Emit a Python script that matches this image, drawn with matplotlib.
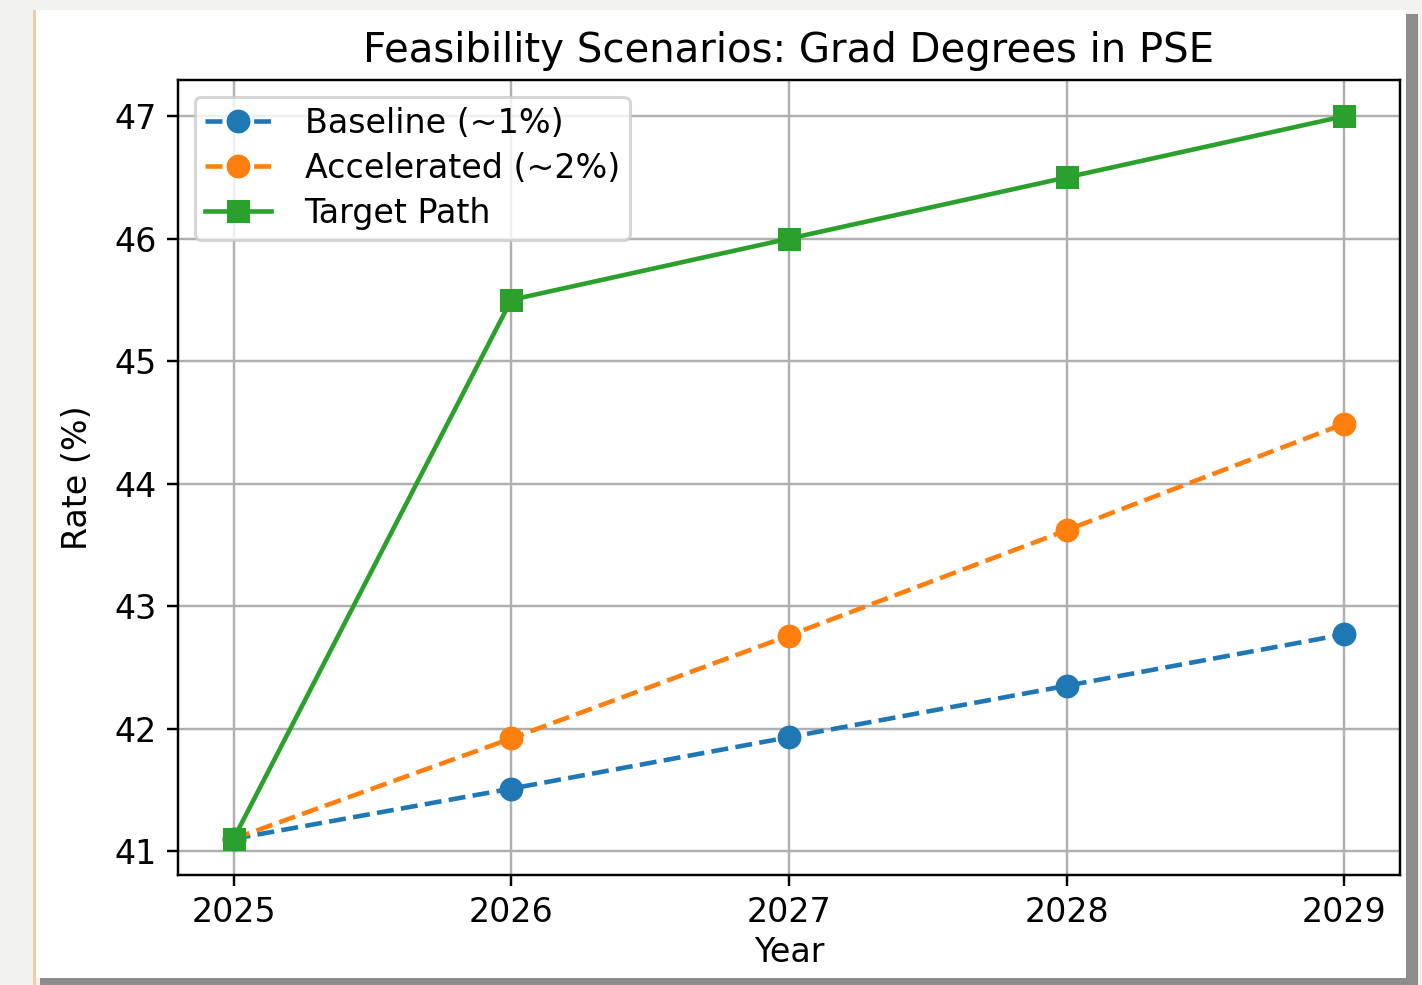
import matplotlib
matplotlib.use('Agg')
import matplotlib.pyplot as plt
import matplotlib.patches as patches

# Data
years = [2025, 2026, 2027, 2028, 2029]
baseline = [41.1, 41.51, 41.93, 42.35, 42.77]
accelerated = [41.1, 41.92, 42.76, 43.62, 44.49]
target = [41.1, 45.5, 46.0, 46.5, 47.0]

# reference text looks a bit wider than stock matplotlib, bump sizes slightly
plt.rcParams['font.size'] = 10.9
plt.rcParams['axes.titlesize'] = 13.2
plt.rcParams['lines.markersize'] = 6.8

W, H = 1422, 985
DPI = 220
fig = plt.figure(figsize=(W / DPI, H / DPI), dpi=DPI, facecolor='#f2f2f0')

# card with drop shadow behind the chart
def fig_rect(x0, y0, x1, y1, **kw):
    r = patches.Rectangle((x0 / W, 1 - y1 / H), (x1 - x0) / W, (y1 - y0) / H,
                          transform=fig.transFigure, **kw)
    fig.add_artist(r)
    return r

fig_rect(40, 14, 1418, 985, facecolor='#8c8c8c', edgecolor='none', zorder=-3)
fig_rect(35, 10, 1406, 978, facecolor='white', edgecolor='none', zorder=-2)
fig_rect(33, 10, 36, 985, facecolor='#f3c9a8', edgecolor='none', zorder=-1)

ax = fig.add_axes([178 / W, 1 - 875 / H, (1400 - 178) / W, (875 - 80) / H])

ax.plot(years, baseline, linestyle='--', marker='o', label='Baseline (~1%)')
ax.plot(years, accelerated, linestyle='--', marker='o', label='Accelerated (~2%)')
ax.plot(years, target, linestyle='-', marker='s', label='Target Path')

ax.set_title('Feasibility Scenarios: Grad Degrees in PSE')
ax.set_xlabel('Year', labelpad=2)
ax.set_ylabel('Rate (%)', labelpad=6.5)
ax.set_xticks(years)
ax.legend(loc='upper left', labelspacing=0.36, borderpad=0.3,
          handletextpad=1.0)
ax.grid(True)

plt.savefig('out.png', dpi=DPI, facecolor=fig.get_facecolor())
